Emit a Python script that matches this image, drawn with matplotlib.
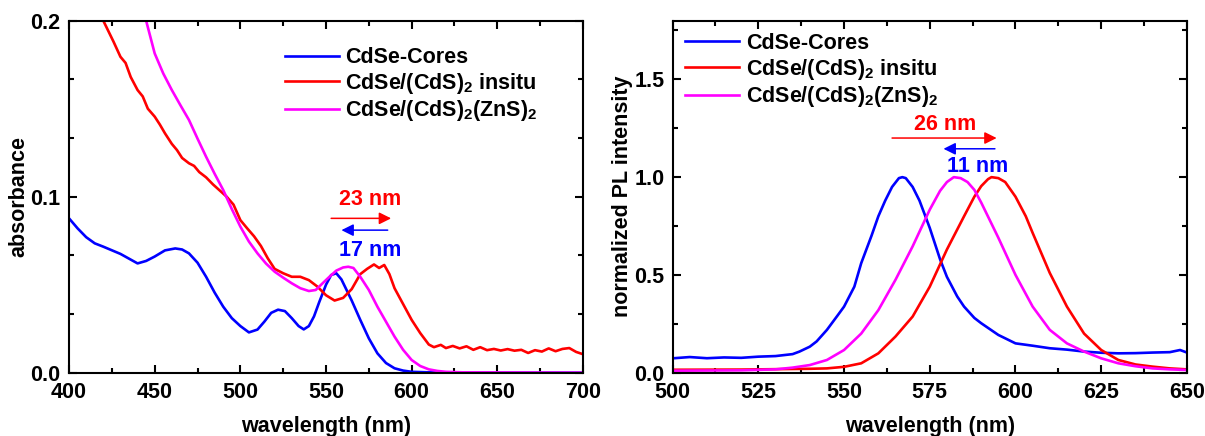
import matplotlib
matplotlib.use('Agg')
import matplotlib.pyplot as plt
from matplotlib.ticker import MultipleLocator

# absorbance data
abs_wl_core = [400, 405, 410, 415, 420, 430, 440, 445, 450, 456, 462, 466, 470, 475,
               480, 485, 490, 495, 500, 505, 510, 514, 518, 522, 526, 530, 534, 537,
               540, 543, 546, 550, 553, 556, 559, 562, 565, 570, 575, 580, 585, 590,
               595, 600, 610, 620, 700]
abs_core = [0.0877, 0.0820, 0.0770, 0.0735, 0.0716, 0.0675, 0.0621, 0.0635, 0.0660,
            0.0695, 0.0706, 0.0700, 0.0678, 0.0625, 0.0545, 0.0455, 0.0375, 0.0310,
            0.0265, 0.0229, 0.0245, 0.0290, 0.0340, 0.0358, 0.0350, 0.0310, 0.0265,
            0.0246, 0.0265, 0.0320, 0.0400, 0.0500, 0.0555, 0.0565, 0.0530, 0.0470,
            0.0410, 0.0300, 0.0195, 0.0110, 0.0055, 0.0025, 0.0012, 0.0005, 0.0002,
            0.0001, 0.0]

abs_wl_insitu = [420, 423, 426, 430, 433, 436, 440, 443, 446, 450, 453, 456, 460, 463,
                 466, 470, 473, 476, 480, 484, 488, 492, 496, 500, 504, 508, 512, 516,
                 520, 525, 530, 535, 540, 545, 550, 555, 560, 565, 570, 574, 578, 581,
                 584, 587, 590, 595, 600, 605, 610, 613, 617, 620, 624, 628, 632, 636,
                 640, 644, 648, 652, 656, 660, 664, 668, 672, 676, 680, 684, 688, 692,
                 696, 700]
abs_insitu = [0.200, 0.194, 0.188, 0.1795, 0.176, 0.168, 0.1606, 0.157, 0.150, 0.1455,
              0.141, 0.136, 0.130, 0.1265, 0.122, 0.119, 0.1175, 0.114, 0.111, 0.107,
              0.1035, 0.100, 0.0955, 0.0867, 0.0820, 0.0775, 0.0720, 0.0650, 0.0590,
              0.0565, 0.0545, 0.0545, 0.0526, 0.0489, 0.0440, 0.0410, 0.0425, 0.0475,
              0.0560, 0.0590, 0.0615, 0.0595, 0.0612, 0.0560, 0.0480, 0.0390, 0.0300,
              0.0225, 0.0160, 0.0145, 0.0158, 0.0140, 0.0152, 0.0138, 0.0150, 0.0130,
              0.0145, 0.0128, 0.0135, 0.0126, 0.0134, 0.0125, 0.0130, 0.0112, 0.0128,
              0.0120, 0.0138, 0.0122, 0.0135, 0.0140, 0.0118, 0.0105]

abs_wl_znS = [445, 450, 455, 460, 465, 470, 475, 480, 485, 490, 495, 500, 505, 510, 515,
              520, 525, 530, 535, 540, 544, 548, 552, 556, 560, 563, 566, 570, 575, 580,
              585, 590, 595, 600, 605, 610, 615, 620, 630, 700]
abs_znS = [0.200, 0.1814, 0.170, 0.1606, 0.152, 0.1436, 0.133, 0.1227, 0.113, 0.1038,
           0.093, 0.083, 0.0745, 0.0678, 0.062, 0.0574, 0.054, 0.0508, 0.0480, 0.0464,
           0.0470, 0.0508, 0.0545, 0.0580, 0.0598, 0.0602, 0.0595, 0.0545, 0.0470,
           0.0375, 0.0290, 0.0205, 0.0130, 0.0072, 0.0038, 0.0019, 0.0010, 0.0005,
           0.0002, 0.0]

# PL data
pl_wl_core = [500, 505, 510, 515, 520, 525, 530, 535, 537, 540, 542, 545, 548, 550,
              553, 555, 558, 560, 562, 564, 566, 567, 568, 570, 572, 575, 578, 580,
              583, 585, 588, 590, 595, 600, 605, 610, 615, 620, 625, 630, 635, 640,
              645, 648, 650]
pl_core = [0.0735, 0.080, 0.074, 0.078, 0.076, 0.082, 0.085, 0.095, 0.108, 0.133,
           0.160, 0.219, 0.290, 0.338, 0.440, 0.560, 0.700, 0.800, 0.880, 0.950,
           0.995, 1.000, 0.995, 0.950, 0.880, 0.740, 0.580, 0.490, 0.390, 0.338,
           0.280, 0.253, 0.193, 0.150, 0.138, 0.125, 0.118, 0.108, 0.102, 0.099,
           0.100, 0.103, 0.105, 0.116, 0.103]

pl_wl_insitu = [500, 520, 540, 545, 550, 555, 560, 565, 570, 575, 580, 585, 588, 590,
                592, 593, 595, 597, 600, 603, 605, 610, 615, 620, 625, 630, 635, 640,
                645, 650]
pl_insitu = [0.015, 0.016, 0.020, 0.022, 0.030, 0.048, 0.099, 0.185, 0.287, 0.440,
             0.630, 0.800, 0.900, 0.954, 0.990, 1.000, 0.995, 0.975, 0.900, 0.800,
             0.715, 0.510, 0.338, 0.200, 0.116, 0.065, 0.042, 0.031, 0.022, 0.017]

pl_wl_znS = [500, 520, 530, 535, 540, 545, 550, 555, 560, 565, 570, 575, 578, 580, 582,
             584, 586, 588, 590, 595, 600, 605, 610, 615, 620, 625, 630, 635, 640, 645,
             650]
pl_znS = [0.010, 0.012, 0.017, 0.026, 0.039, 0.065, 0.116, 0.200, 0.320, 0.475, 0.646,
          0.834, 0.930, 0.975, 1.000, 0.995, 0.975, 0.935, 0.870, 0.690, 0.500, 0.338,
          0.219, 0.150, 0.108, 0.0735, 0.048, 0.033, 0.022, 0.017, 0.014]

labels = ['CdSe-Cores', 'CdSe/(CdS)$_2$ insitu', 'CdSe/(CdS)$_2$(ZnS)$_2$']
colors = ['#0000ff', '#ff0000', '#ff00ff']

plt.rcParams['font.family'] = 'Liberation Sans'
plt.rcParams['font.weight'] = 'bold'
plt.rcParams['mathtext.fontset'] = 'custom'
plt.rcParams['mathtext.rm'] = 'Liberation Sans:bold'
plt.rcParams['mathtext.default'] = 'regular'
plt.rcParams['axes.linewidth'] = 1.5

fs = 15.5
tfs = 15.5

fig = plt.figure(figsize=(12.05, 4.36), dpi=100)
ax1 = fig.add_axes([0.0573, 0.1452, 0.4265, 0.8073])
ax2 = fig.add_axes([0.5582, 0.1452, 0.4268, 0.8073])


def style_axis(ax):
    ax.tick_params(which='both', direction='in', top=True, right=True, width=1.5,
                   labelsize=tfs)
    ax.tick_params(which='major', length=6)
    ax.tick_params(which='minor', length=3.5)
    ax.tick_params(axis='x', which='major', pad=7)
    ax.tick_params(axis='y', which='major', pad=6)
    for lab in ax.get_xticklabels() + ax.get_yticklabels():
        lab.set_fontweight('bold')


# left panel: absorbance
for wl, y, lab, c in zip([abs_wl_core, abs_wl_insitu, abs_wl_znS],
                         [abs_core, abs_insitu, abs_znS], labels, colors):
    ax1.plot(wl, y, color=c, lw=1.9, label=lab)
ax1.set_xlim(400, 700)
ax1.set_ylim(0, 0.2)
ax1.xaxis.set_major_locator(MultipleLocator(50))
ax1.xaxis.set_minor_locator(MultipleLocator(25))
ax1.yaxis.set_minor_locator(MultipleLocator(0.1 / 3))
ax1.set_yticks([0, 0.1, 0.2])
ax1.set_yticklabels(['0.0', '0.1', '0.2'])
ax1.set_xlabel('wavelength (nm)', fontsize=fs, fontweight='bold', labelpad=9)
ax1.set_ylabel('absorbance', fontsize=fs, fontweight='bold', labelpad=1)
style_axis(ax1)
ax1.legend(loc='upper left', bbox_to_anchor=(0.42, 0.925), frameon=False,
           fontsize=fs, handlelength=2.5, handletextpad=0.3, borderpad=0,
           borderaxespad=0, labelspacing=0.12)

ax1.annotate('', xy=(588, 0.0877), xytext=(553, 0.0877),
             arrowprops=dict(arrowstyle='-|>', color='#ff0000', lw=1.1,
                             mutation_scale=18, shrinkA=0, shrinkB=0))
ax1.annotate('', xy=(559, 0.081), xytext=(586, 0.081),
             arrowprops=dict(arrowstyle='-|>', color='#0000ff', lw=1.1,
                             mutation_scale=18, shrinkA=0, shrinkB=0))
ax1.text(575.5, 0.0985, '23 nm', color='#ff0000', fontsize=fs, fontweight='bold',
         ha='center', va='center')
ax1.text(575.5, 0.0695, '17 nm', color='#0000ff', fontsize=fs, fontweight='bold',
         ha='center', va='center')

# right panel: PL
for wl, y, lab, c in zip([pl_wl_core, pl_wl_insitu, pl_wl_znS],
                         [pl_core, pl_insitu, pl_znS], labels, colors):
    ax2.plot(wl, y, color=c, lw=1.9, label=lab)
ax2.set_xlim(500, 650)
ax2.set_ylim(0, 1.8)
ax2.xaxis.set_major_locator(MultipleLocator(25))
ax2.xaxis.set_minor_locator(MultipleLocator(12.5))
ax2.yaxis.set_major_locator(MultipleLocator(0.5))
ax2.yaxis.set_minor_locator(MultipleLocator(0.25))
ax2.set_xlabel('wavelength (nm)', fontsize=fs, fontweight='bold', labelpad=9)
ax2.set_ylabel('normalized PL intensity', fontsize=fs, fontweight='bold', labelpad=1)
style_axis(ax2)
ax2.legend(loc='upper left', bbox_to_anchor=(0.025, 0.965), frameon=False,
           fontsize=fs, handlelength=2.5, handletextpad=0.3, borderpad=0,
           borderaxespad=0, labelspacing=0.12)

ax2.annotate('', xy=(594.5, 1.20), xytext=(564, 1.20),
             arrowprops=dict(arrowstyle='-|>', color='#ff0000', lw=1.1,
                             mutation_scale=18, shrinkA=0, shrinkB=0))
ax2.annotate('', xy=(579, 1.145), xytext=(594, 1.145),
             arrowprops=dict(arrowstyle='-|>', color='#0000ff', lw=1.1,
                             mutation_scale=18, shrinkA=0, shrinkB=0))
ax2.text(579.5, 1.27, '26 nm', color='#ff0000', fontsize=fs, fontweight='bold',
         ha='center', va='center')
ax2.text(589, 1.055, '11 nm', color='#0000ff', fontsize=fs, fontweight='bold',
         ha='center', va='center')

fig.savefig('out.png', dpi=100)
